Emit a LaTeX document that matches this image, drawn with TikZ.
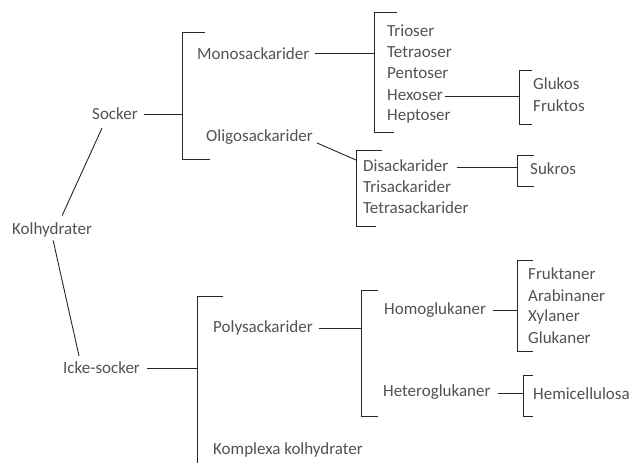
\documentclass[tikz,border=0pt]{standalone}
\usepackage{fontspec}
\setmainfont{Carlito}
\usepackage{tikz}

\begin{document}
\begin{tikzpicture}[x=1pt,y=-1pt,
	lbl/.style={anchor=west,inner sep=0pt,text=black!68,font=\fontsize{17}{20}\selectfont},
	conn/.style={line width=0.9pt,draw=black!85}]
\useasboundingbox (0,0) rectangle (630,463);

\node[lbl] (kol) at (12,230) {Kolhydrater};
\node[lbl] (socker) at (92,114) {Socker};
\node[lbl] (icke) at (63,368) {Icke-socker};

\node[lbl] (mono) at (197,54) {Monosackarider};
\node[lbl] (oligo) at (206,137) {Oligosackarider};
\node[lbl] (poly) at (213,328) {Polysackarider};
\node[lbl] (komplexa) at (213,450) {Komplexa kolhydrater};

\node[lbl] (trioser) at (387,31) {Trioser};
\node[lbl] (tetraoser) at (387,52) {Tetraoser};
\node[lbl] (pentoser) at (387,73) {Pentoser};
\node[lbl] (hexoser) at (387,95) {Hexoser};
\node[lbl] (heptoser) at (387,116) {Heptoser};

\node[lbl] (glukos) at (533,84) {Glukos};
\node[lbl] (fruktos) at (533,106) {Fruktos};

\node[lbl] (disack) at (363,166) {Disackarider};
\node[lbl] (trisack) at (363,187) {Trisackarider};
\node[lbl] (tetrasack) at (363,208) {Tetrasackarider};
\node[lbl] (sukros) at (530,169) {Sukros};

\node[lbl] (homo) at (384,310) {Homoglukaner};
\node[lbl] (hetero) at (383,392) {Heteroglukaner};

\node[lbl] (fruktaner) at (528,274) {Fruktaner};
\node[lbl] (arabinaner) at (528,296) {Arabinaner};
\node[lbl] (xylaner) at (528,317) {Xylaner};
\node[lbl] (glukaner) at (528,338) {Glukaner};
\node[lbl] (hemi) at (533,394) {Hemicellulosa};

% brackets
\coordinate (brSock) at (182,32);
\coordinate (brMono) at (374,12);
\coordinate (brHex) at (519,70);
\coordinate (brOligo) at (356,160);
\coordinate (brDi) at (517,155);
\coordinate (brIcke) at (197,296);
\coordinate (brPoly) at (361,290);
\coordinate (brHomo) at (517,260);
\coordinate (brHetero) at (523,375);

\draw[conn] (205,32) -- (brSock) -- (182,159) -- (210,159);
\draw[conn] (397,12) -- (brMono) -- (374,132) -- (394,132);
\draw[conn] (532,70) -- (brHex) -- (519,124) -- (532,124);
\draw[conn] (382,150) -- (356,150) -- (356,226) -- (376,226);
\draw[conn] (534,155) -- (brDi) -- (517,186) -- (534,186);
\draw[conn] (223,296) -- (brIcke) -- (197,466);
\draw[conn] (378,290) -- (brPoly) -- (361,416) -- (378,416);
\draw[conn] (533,260) -- (brHomo) -- (517,351) -- (533,351);
\draw[conn] (533,375) -- (brHetero) -- (523,416) -- (533,416);

% connectors
\draw[conn] ([shift={(10pt,7pt)}]kol.north) -- ([shift={(-13pt,-8pt)}]socker.south);
\draw[conn] ([shift={(1pt,-3pt)}]kol.south) -- ([shift={(16pt,6pt)}]icke.north west);
\draw[conn] ([xshift=6pt]socker.east) -- (socker.east -| brSock);
\draw[conn] ([xshift=7pt]icke.east) -- (icke.east -| brIcke);
\draw[conn] ([xshift=5pt,yshift=1pt]mono.east) -- ([yshift=1pt]mono.east -| brMono);
\draw[conn] ([shift={(4pt,-6pt)}]oligo.east) -- (brOligo);
\draw[conn] ([xshift=1.5pt,yshift=-1pt]hexoser.east) -- ([yshift=-1pt]hexoser.east -| brHex);
\draw[conn] ([xshift=9pt,yshift=-1pt]disack.east) -- ([yshift=-1pt]disack.east -| brDi);
\draw[conn] ([xshift=6pt]poly.east) -- (poly.east -| brPoly);
\draw[conn] ([xshift=7pt]homo.east) -- (homo.east -| brHomo);
\draw[conn] ([xshift=7pt,yshift=-1pt]hetero.east) -- ([yshift=-1pt]hetero.east -| brHetero);

\end{tikzpicture}
\end{document}
